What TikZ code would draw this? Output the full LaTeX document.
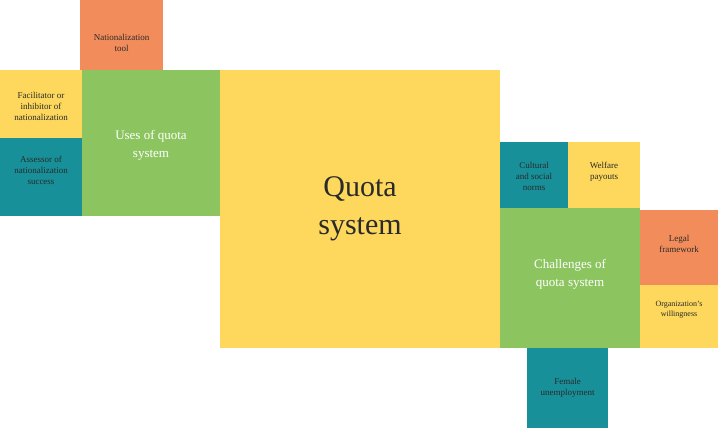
\documentclass[tikz,border=0pt]{standalone}
\usepackage{fontspec}
\setmainfont{Liberation Serif}
\definecolor{qy}{HTML}{FDD85D}
\definecolor{qo}{HTML}{F28C5A}
\definecolor{qg}{HTML}{8CC560}
\definecolor{qt}{HTML}{17909A}
\definecolor{qtxt}{HTML}{2A2A2A}
\begin{document}
\begin{tikzpicture}[x=1pt,y=-1pt,
  box/.style={draw=none,inner sep=0pt,align=center,text=qtxt,font=\fontsize{9}{11}\selectfont},
  big/.style={box,text=white,font=\fontsize{13}{18}\selectfont}]
\useasboundingbox (0,0) rectangle (720,428);
\fill[white] (0,0) rectangle (720,428);
\newcommand{\bx}[7]{\fill[#6] (#2,#3) rectangle (#4,#5); \node[#7] (#1) at ({(#2+#4)/2},{(#3+#5)/2}) {\phantom{}};}
\fill[qo] (80,0) rectangle (163,70);
\node[box] (nt) at (121.5,43) {Nationalization\\tool};
\fill[qy] (0,70) rectangle (82,138);
\node[box] (fi) at (41,106) {Facilitator or\\inhibitor of\\nationalization};
\fill[qt] (0,138) rectangle (82,216);
\node[box] (as) at (41,170) {Assessor of\\nationalization\\success};
\fill[qg] (82,70) rectangle (220,216);
\node[big] (uq) at (151,145) {Uses of quota\\system};
\fill[qy] (220,70) rectangle (500,348);
\node[box,font=\fontsize{30}{38}\selectfont] (qs) at (360,209) {Quota\\system};
\fill[qt] (500,142) rectangle (568,208);
\node[box] (cs) at (534,176) {Cultural\\and social\\norms};
\fill[qy] (568,142) rectangle (640,208);
\node[box] (wp) at (604,172) {Welfare\\payouts};
\fill[qg] (500,208) rectangle (640,348);
\node[big] (ch) at (570,274) {Challenges of\\quota system};
\fill[qo] (640,210) rectangle (718,285);
\node[box] (lf) at (679,244) {Legal\\framework};
\fill[qy] (640,285) rectangle (718,348);
\node[box,font=\fontsize{8}{10}\selectfont] (ow) at (679,310) {Organization's\\willingness};
\fill[qt] (527,348) rectangle (608,428);
\node[box] (fu) at (567.5,388) {Female\\unemployment};
\end{tikzpicture}
\end{document}
